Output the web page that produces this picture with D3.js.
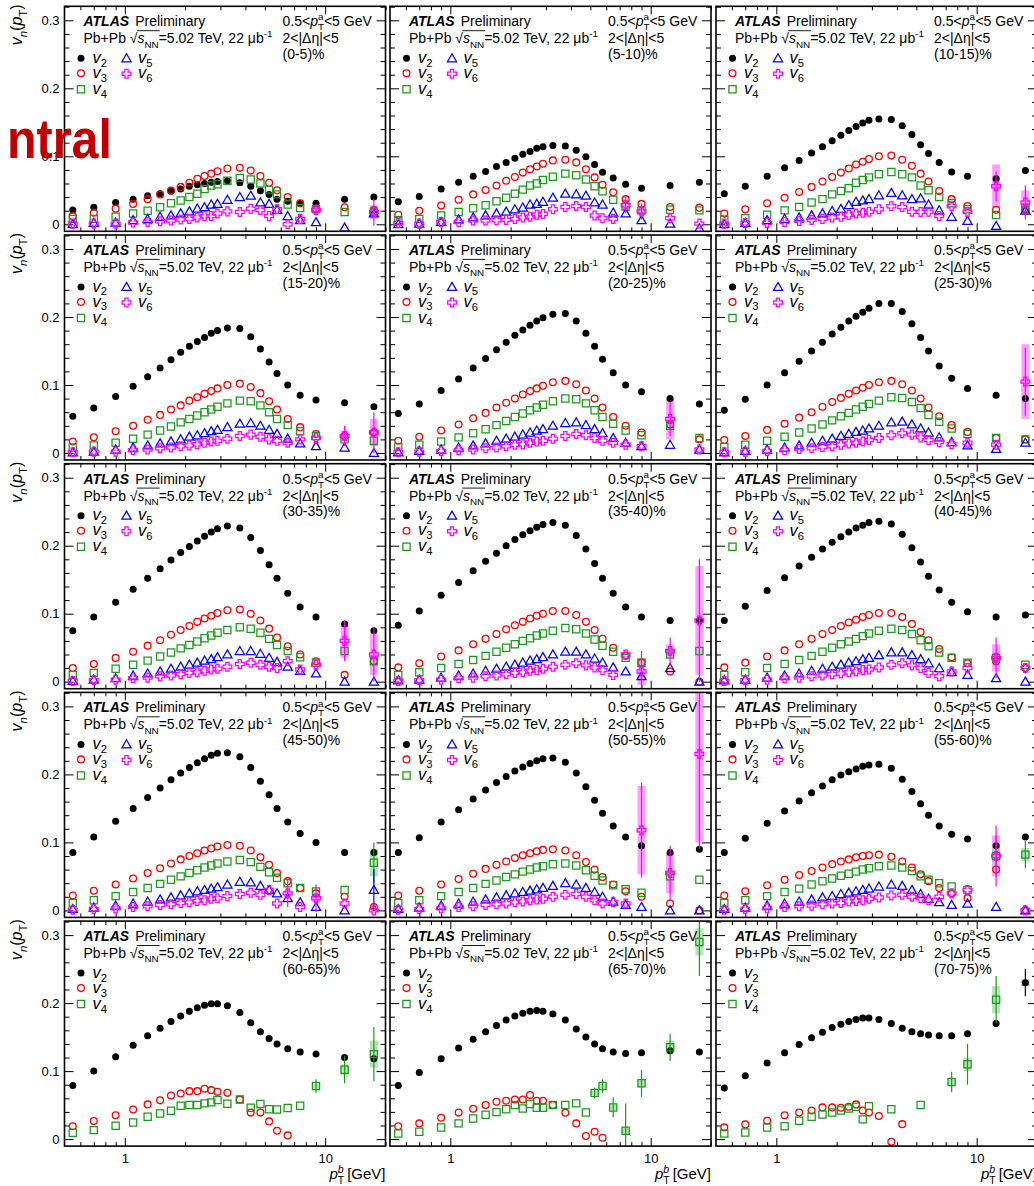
<!DOCTYPE html>
<html><head><meta charset="utf-8">
<script src="https://cdn.jsdelivr.net/npm/d3@7"></script>
<style>
body{margin:0;background:#fff}
svg{display:block}
text{font-family:"Liberation Sans",Arial,Helvetica,sans-serif;fill:#000;white-space:pre}
</style>
</head><body>
<svg id="chart" width="1034" height="1186"></svg>
<script>
// Associated-particle pT bin centres (GeV)
const pT = [0.55,0.7,0.9,1.1,1.3,1.5,1.7,1.9,2.1,2.3,2.5,2.7,2.9,3.25,3.75,4.25,4.75,5.25,5.75,6.5,7.5,9,12.5,17.5];

const centralities = ["(0-5)%","(5-10)%","(10-15)%","(15-20)%","(20-25)%","(25-30)%",
  "(30-35)%","(35-40)%","(40-45)%","(45-50)%","(50-55)%","(55-60)%",
  "(60-65)%","(65-70)%","(70-75)%"];

const v2 = [
  [0.021,0.025,0.032,0.037,0.042,0.045,0.049,0.052,0.056,0.058,0.060,0.062,0.063,0.064,0.061,0.056,0.0495,0.044,0.037,0.034,0.031,0.031,0.037,0.040],
  [0.033,0.041,0.052,0.062,0.0705,0.0775,0.085,0.091,0.097,0.103,0.107,0.112,0.114,0.116,0.115,0.109,0.0995,0.088,0.0765,0.068,0.059,0.053,0.057,0.062],
  [0.045,0.056,0.0705,0.083,0.094,0.105,0.114,0.123,0.131,0.138,0.144,0.149,0.153,0.155,0.154,0.145,0.132,0.117,0.104,0.091,0.077,0.0705,0.067,0.079],
  [0.054,0.066,0.083,0.098,0.112,0.125,0.137,0.148,0.157,0.164,0.170,0.176,0.180,0.184,0.183,0.171,0.153,0.134,0.117,0.100,0.085,0.078,0.074,0.068],
  [0.058,0.072,0.092,0.109,0.125,0.139,0.152,0.163,0.173,0.181,0.188,0.194,0.199,0.204,0.205,0.194,0.176,0.157,0.138,0.118,0.100,0.090,0.080,0.072],
  [0.063,0.079,0.100,0.118,0.135,0.150,0.163,0.175,0.185,0.194,0.201,0.207,0.213,0.220,0.220,0.208,0.190,0.170,0.150,0.128,0.110,0.095,0.085,0.080],
  [0.075,0.095,0.117,0.136,0.152,0.166,0.179,0.190,0.199,0.207,0.214,0.220,0.225,0.229,0.226,0.212,0.193,0.172,0.152,0.130,0.110,0.095,0.085,0.075],
  [0.083,0.104,0.127,0.146,0.163,0.177,0.189,0.200,0.209,0.216,0.222,0.227,0.231,0.234,0.230,0.215,0.195,0.174,0.152,0.130,0.110,0.095,0.090,0.090],
  [0.090,0.111,0.134,0.153,0.170,0.183,0.195,0.205,0.213,0.220,0.226,0.230,0.234,0.236,0.232,0.217,0.197,0.176,0.155,0.135,0.117,0.103,0.095,0.098],
  [0.085,0.108,0.131,0.150,0.166,0.180,0.192,0.202,0.210,0.217,0.223,0.228,0.231,0.232,0.226,0.210,0.190,0.170,0.150,0.130,0.113,0.100,0.085,0.085],
  [0.085,0.107,0.130,0.148,0.164,0.177,0.188,0.197,0.205,0.211,0.216,0.220,0.223,0.224,0.218,0.202,0.182,0.162,0.143,0.124,0.108,0.095,0.085,0.090],
  [0.085,0.106,0.128,0.146,0.161,0.173,0.183,0.192,0.199,0.204,0.208,0.212,0.214,0.215,0.209,0.193,0.175,0.157,0.140,0.124,0.112,0.105,0.095,0.108],
  [0.079,0.100,0.121,0.138,0.152,0.163,0.173,0.181,0.188,0.193,0.197,0.199,0.199,0.196,0.186,0.171,0.158,0.148,0.140,0.133,0.128,0.125,0.120,0.118],
  [0.079,0.098,0.118,0.134,0.147,0.158,0.167,0.175,0.181,0.185,0.188,0.189,0.188,0.184,0.175,0.162,0.150,0.140,0.133,0.128,0.126,0.127,0.130,0.128],
  [0.075,0.093,0.112,0.127,0.139,0.149,0.157,0.164,0.169,0.173,0.176,0.178,0.178,0.176,0.170,0.163,0.158,0.155,0.153,0.152,0.152,0.155,0.170,0.230]
];

const v3 = [
  [0.012,0.017,0.023,0.030,0.037,0.044,0.0495,0.055,0.061,0.067,0.071,0.0745,0.078,0.082,0.083,0.079,0.071,0.061,0.050,0.040,0.031,0.023,0.025,0.021],
  [0.014,0.020,0.0275,0.036,0.044,0.0505,0.057,0.064,0.0695,0.076,0.081,0.085,0.089,0.094,0.095,0.091,0.081,0.069,0.058,0.047,0.037,0.030,0.0255,0.0245],
  [0.0157,0.022,0.031,0.039,0.0475,0.055,0.063,0.0695,0.076,0.082,0.088,0.092,0.096,0.100,0.101,0.095,0.086,0.0745,0.063,0.049,0.037,0.027,0.0215,0.022],
  [0.017,0.023,0.032,0.040,0.049,0.056,0.064,0.070,0.077,0.082,0.087,0.091,0.095,0.100,0.102,0.097,0.088,0.076,0.064,0.050,0.038,0.028,0.025,0.030],
  [0.018,0.024,0.033,0.042,0.051,0.059,0.067,0.074,0.080,0.086,0.091,0.095,0.099,0.104,0.106,0.101,0.092,0.080,0.067,0.053,0.040,0.030,0.042,0.020],
  [0.019,0.025,0.034,0.043,0.052,0.060,0.068,0.075,0.081,0.087,0.092,0.096,0.100,0.104,0.106,0.101,0.092,0.080,0.067,0.054,0.041,0.031,0.022,0.020],
  [0.020,0.026,0.035,0.044,0.053,0.061,0.069,0.076,0.082,0.088,0.093,0.097,0.101,0.105,0.106,0.100,0.090,0.078,0.065,0.052,0.040,0.030,0.010,0.030],
  [0.021,0.027,0.037,0.046,0.055,0.063,0.070,0.077,0.083,0.088,0.093,0.097,0.100,0.104,0.104,0.098,0.088,0.076,0.063,0.050,0.038,0.028,0.015,0.000],
  [0.021,0.028,0.037,0.046,0.055,0.063,0.070,0.076,0.082,0.087,0.091,0.095,0.098,0.101,0.101,0.095,0.085,0.073,0.061,0.048,0.036,0.027,0.030,0.020],
  [0.022,0.029,0.038,0.047,0.055,0.062,0.069,0.075,0.080,0.084,0.088,0.091,0.094,0.096,0.095,0.088,0.078,0.067,0.055,0.043,0.033,0.025,0.020,0.005],
  [0.022,0.029,0.038,0.046,0.054,0.061,0.067,0.072,0.077,0.081,0.084,0.087,0.089,0.090,0.088,0.081,0.071,0.060,0.049,0.038,0.028,0.020,0.010,0.000],
  [0.022,0.028,0.037,0.045,0.052,0.058,0.063,0.068,0.072,0.075,0.078,0.080,0.081,0.082,0.079,0.072,0.063,0.053,0.043,0.033,0.025,0.018,0.060,0.000],
  [0.019,0.0265,0.035,0.0435,0.051,0.057,0.064,0.067,0.0705,0.0705,0.074,0.072,0.0695,0.068,0.058,0.039,0.039,0.026,0.0123,0.0054,null,null,null,null],
  [0.019,0.0231,0.0314,0.039,0.0446,0.050,0.055,0.0564,0.0583,0.0583,0.0647,0.0564,0.0564,0.050,0.0387,0.0231,0.0044,0.0108,0.002,null,null,null,null,null],
  [0.0172,0.0216,0.027,0.035,0.039,0.042,0.0466,0.0466,0.046,0.0476,0.051,0.042,0.039,0.034,-0.0039,0.022,null,null,null,null,null,null,null,null]
];

const v4 = [
  [0.008,0.008,0.011,0.016,0.020,0.025,0.031,0.035,0.040,0.045,0.052,0.057,0.059,0.064,0.068,0.066,0.060,0.051,0.044,0.029,0.024,0.022,0.018,0.018],
  [0.006,0.008,0.013,0.018,0.0235,0.028,0.034,0.039,0.045,0.051,0.057,0.060,0.065,0.070,0.0745,0.072,0.066,0.056,0.0485,0.036,0.026,0.0205,0.0215,0.0205],
  [0.007,0.009,0.014,0.0205,0.0255,0.032,0.037,0.044,0.049,0.053,0.061,0.065,0.069,0.0735,0.077,0.0735,0.069,0.057,0.050,0.040,0.031,0.022,0.0137,0.024],
  [0.008,0.011,0.015,0.021,0.027,0.033,0.039,0.045,0.050,0.055,0.060,0.064,0.068,0.073,0.077,0.076,0.070,0.060,0.050,0.041,0.032,0.025,0.020,0.018],
  [0.009,0.012,0.017,0.023,0.029,0.035,0.041,0.047,0.053,0.058,0.063,0.067,0.071,0.076,0.080,0.079,0.073,0.063,0.053,0.043,0.033,0.026,0.040,0.022],
  [0.009,0.012,0.018,0.024,0.030,0.036,0.042,0.048,0.054,0.059,0.064,0.068,0.072,0.077,0.082,0.081,0.075,0.066,0.056,0.046,0.036,0.028,0.022,0.020],
  [0.010,0.013,0.019,0.025,0.031,0.037,0.043,0.049,0.054,0.059,0.064,0.068,0.072,0.076,0.080,0.078,0.072,0.063,0.054,0.045,0.036,0.028,0.045,0.030],
  [0.010,0.014,0.020,0.026,0.032,0.038,0.044,0.050,0.055,0.060,0.064,0.068,0.071,0.075,0.079,0.077,0.071,0.062,0.053,0.044,0.035,0.028,0.040,0.045],
  [0.010,0.014,0.020,0.026,0.032,0.038,0.044,0.050,0.055,0.059,0.063,0.067,0.071,0.075,0.078,0.076,0.070,0.061,0.052,0.043,0.035,0.028,0.035,0.025],
  [0.011,0.015,0.021,0.027,0.033,0.039,0.045,0.050,0.055,0.059,0.063,0.066,0.069,0.072,0.074,0.071,0.064,0.056,0.048,0.040,0.033,0.028,0.030,0.070],
  [0.011,0.015,0.021,0.027,0.033,0.039,0.044,0.049,0.053,0.057,0.060,0.063,0.065,0.068,0.069,0.066,0.059,0.051,0.044,0.037,0.031,0.026,0.050,0.045],
  [0.011,0.015,0.021,0.027,0.032,0.038,0.043,0.047,0.051,0.054,0.057,0.060,0.062,0.065,0.066,0.063,0.058,0.050,0.045,0.040,0.035,0.030,0.080,0.082],
  [0.0093,0.0132,0.0196,0.0245,0.0328,0.0377,0.0417,0.049,0.050,0.050,0.0525,0.054,0.0574,0.052,0.0583,0.046,0.0515,0.044,0.0436,0.0456,0.049,0.078,0.102,0.125],
  [0.0083,0.0108,0.0172,0.0231,0.0304,0.0358,0.0397,0.044,0.050,0.045,0.0515,0.046,0.046,0.050,0.050,0.0525,0.039,0.068,0.078,0.0466,0.0123,0.082,0.135,0.290],
  [0.0083,0.0098,0.0172,0.019,0.027,0.033,0.0363,0.039,0.042,0.045,0.0476,0.029,0.0485,null,0.044,null,null,0.050,null,null,0.084,0.110,0.205,null]
];

// v5 and v6 are shown for the twelve most central intervals only
const v5 = [
  [0.000,0.002,0.0025,0.006,0.008,0.011,0.013,0.016,0.019,0.023,0.025,0.029,0.030,0.036,0.040,0.042,0.032,0.030,0.021,0.012,0.006,0.003,-0.005,0.016],
  [0.000,0.001,0.0035,0.007,0.010,0.013,0.016,0.0185,0.022,0.0245,0.029,0.030,0.033,0.039,0.045,0.044,0.042,0.032,0.029,0.017,0.016,0.006,0.001,-0.006],
  [0.000,0.002,0.006,0.008,0.010,0.013,0.016,0.0195,0.0225,0.028,0.033,0.035,0.037,0.0425,0.046,0.0425,0.037,0.038,0.029,0.0205,0.011,0.005,-0.0025,0.020],
  [0.001,0.002,0.005,0.008,0.011,0.014,0.017,0.020,0.024,0.026,0.029,0.032,0.034,0.038,0.043,0.044,0.040,0.034,0.028,0.021,0.014,0.010,0.008,0.000],
  [0.001,0.003,0.005,0.008,0.011,0.014,0.018,0.021,0.024,0.027,0.030,0.033,0.035,0.040,0.044,0.045,0.041,0.035,0.029,0.022,0.015,0.010,0.012,0.005],
  [0.001,0.003,0.005,0.008,0.011,0.015,0.018,0.021,0.025,0.028,0.031,0.033,0.036,0.040,0.045,0.046,0.042,0.036,0.030,0.023,0.016,0.011,0.006,0.015],
  [0.001,0.003,0.005,0.009,0.012,0.015,0.019,0.022,0.025,0.028,0.031,0.033,0.036,0.040,0.045,0.045,0.041,0.035,0.029,0.022,0.016,0.012,0.000,0.000],
  [0.002,0.003,0.006,0.009,0.012,0.016,0.019,0.022,0.025,0.028,0.031,0.033,0.036,0.040,0.044,0.044,0.040,0.034,0.028,0.021,0.015,0.008,0.020,0.000],
  [0.002,0.003,0.006,0.009,0.012,0.016,0.019,0.022,0.025,0.028,0.030,0.033,0.035,0.039,0.043,0.043,0.039,0.033,0.027,0.020,0.014,0.010,0.005,0.000],
  [0.002,0.004,0.007,0.010,0.013,0.016,0.019,0.022,0.025,0.028,0.030,0.032,0.034,0.038,0.042,0.041,0.036,0.030,0.025,0.018,0.012,0.005,0.000,0.030],
  [0.002,0.004,0.007,0.010,0.013,0.016,0.019,0.022,0.025,0.027,0.029,0.031,0.033,0.036,0.040,0.038,0.033,0.027,0.020,0.013,0.008,0.005,0.000,0.000],
  [0.002,0.004,0.007,0.010,0.013,0.016,0.019,0.021,0.024,0.026,0.028,0.030,0.032,0.035,0.038,0.036,0.030,0.024,0.017,0.012,0.008,0.010,0.005,0.000]
];

const v6 = [
  [0.001,0.001,0.001,0.0025,0.0035,0.0045,0.0055,0.007,0.008,0.010,0.012,0.012,0.016,0.019,0.018,0.023,0.021,0.012,0.022,0.000,0.008,0.021,null,0.018],
  [0.002,0.001,0.0035,0.0035,0.0055,0.0055,0.006,0.0065,0.008,0.010,0.011,0.014,0.015,0.022,0.0255,0.027,0.0255,0.013,0.009,0.008,0.028,0.019,0.009,0.001],
  [0.001,0.002,0.002,0.0035,0.005,0.0065,0.008,0.010,0.011,0.014,0.016,0.017,0.0185,0.022,0.0265,0.0255,0.0185,0.018,0.0185,0.012,0.0265,0.018,0.056,0.032],
  [0.001,0.002,0.002,0.004,0.005,0.007,0.008,0.010,0.011,0.013,0.015,0.017,0.018,0.021,0.025,0.027,0.024,0.020,0.018,0.015,0.020,0.022,0.025,0.030],
  [0.001,0.002,0.003,0.004,0.005,0.007,0.008,0.010,0.012,0.013,0.015,0.017,0.018,0.021,0.025,0.028,0.026,0.022,0.018,0.015,0.012,0.010,0.050,0.005],
  [0.001,0.002,0.003,0.004,0.006,0.007,0.009,0.010,0.012,0.014,0.015,0.017,0.019,0.022,0.026,0.029,0.027,0.023,0.019,0.016,0.013,0.015,0.012,0.105],
  [0.001,0.002,0.003,0.005,0.006,0.008,0.009,0.011,0.013,0.014,0.016,0.018,0.019,0.022,0.026,0.028,0.025,0.022,0.020,0.030,0.018,0.025,0.060,0.040],
  [0.001,0.002,0.003,0.005,0.006,0.008,0.009,0.011,0.013,0.014,0.016,0.017,0.019,0.022,0.025,0.027,0.024,0.021,0.017,0.010,0.040,0.015,0.045,0.090],
  [0.001,0.002,0.003,0.005,0.006,0.008,0.009,0.011,0.012,0.014,0.015,0.017,0.018,0.021,0.025,0.027,0.024,0.020,0.013,0.008,0.015,0.020,0.035,0.020],
  [0.001,0.002,0.003,0.005,0.006,0.008,0.009,0.011,0.012,0.014,0.015,0.017,0.018,0.021,0.024,0.026,0.023,0.030,0.010,0.025,0.005,0.018,0.010,0.000],
  [0.001,0.002,0.003,0.005,0.006,0.008,0.009,0.010,0.012,0.013,0.015,0.016,0.017,0.020,0.023,0.024,0.020,0.015,0.010,0.012,0.010,0.118,0.055,0.230],
  [0.001,0.002,0.003,0.005,0.006,0.007,0.009,0.010,0.011,0.013,0.014,0.015,0.017,0.019,0.022,0.023,0.020,0.018,0.015,0.020,0.025,0.030,0.080,0.000]
];

// Uncertainties on individual points: [panel, harmonic, pT index, stat, syst]
const uncertainties = [
  [0,6,21,0.008,0.004],[0,6,23,0.020,0.010],[0,4,23,0.004,0.004],
  [1,6,20,0.012,0.008],[1,6,21,0.012,0.006],
  [2,6,22,0.022,0.032],[2,6,23,0.025,0.018],
  [3,6,22,0.015,0.008],[3,6,23,0.030,0.020],
  [4,6,22,0.025,0.030],
  [5,6,23,0.050,0.055],
  [6,6,22,0.030,0.025],[6,6,23,0.040,0.030],
  [7,6,21,0.030,0.020],[7,6,22,0.020,0.010],[7,6,23,0.090,0.080],
  [8,6,22,0.030,0.020],
  [9,6,19,0.020,0.005],[9,6,21,0.020,0.005],[9,4,23,0.030,0.020],[9,5,23,0.030,0.000],
  [10,6,21,0.070,0.065],[10,6,22,0.040,0.030],[10,6,23,0.140,0.130],
  [11,6,22,0.045,0.030],[11,4,22,0.030,0.010],[11,4,23,0.020,0.010],
  [12,4,21,0.010,0.004],[12,4,22,0.020,0.008],[12,4,23,0.040,0.020],
  [13,4,17,0.008,0.003],[13,4,18,0.010,0.004],[13,4,19,0.015,0.004],[13,4,20,0.040,0.005],
  [13,4,21,0.020,0.006],[13,4,22,0.020,0.010],[13,4,23,0.050,0.020],
  [14,4,20,0.015,0.005],[14,4,21,0.030,0.010],[14,4,22,0.035,0.020],[14,2,23,0.020,0.005]
];

const yTicks = [0, 0.1, 0.2, 0.3];
const xTickLabels = [1, 10];

const series = {2: v2, 3: v3, 4: v4, 5: v5, 6: v6};
const colors = {2: "#000000", 3: "#ff0000", 4: "#1a9a1a", 5: "#0000ff", 6: "#ff00ff"};
const systFill = {2: "#999999", 3: "#ff9999", 4: "#99dd99", 5: "#9999ff", 6: "#ff80ff"};

const svg = d3.select("#chart");
const colLeft = [64.5, 390, 716];
const W = 321, H = 225;
const rowTop = r => 6.3 + r * 228.7;

// Lays out a run of text pieces (italic, sub/superscript, stacked) left to right
function rich(parent, x, y, segs, fs, anchor) {
  const g = parent.append("g");
  let cx = 0, stackW = 0, overStart = null, overEnd = null;
  segs.forEach(s => {
    const t = g.append("text").attr("x", cx).attr("y", y + (s.dy || 0) * fs)
      .attr("xml:space", "preserve")
      .attr("font-size", fs * (s.scale || 1)).text(s.t);
    if (s.it) t.attr("font-style", "italic");
    if (s.b) t.attr("font-weight", "bold");
    const w = t.node().getComputedTextLength();
    if (s.overStart) overStart = cx + (s.overOffset || 0);
    if (s.stack) { stackW = Math.max(stackW, w); }
    else { cx += Math.max(w, stackW); stackW = 0; }
    if (s.overEnd) overEnd = cx;
    cx += s.gap || 0;
  });
  if (overStart !== null && overEnd !== null) {
    g.append("line").attr("x1", overStart).attr("x2", overEnd + 1)
      .attr("y1", y - fs * 0.9).attr("y2", y - fs * 0.9)
      .attr("stroke", "#000").attr("stroke-width", 0.9);
  }
  const off = anchor === "end" ? x - cx : anchor === "middle" ? x - cx / 2 : x;
  g.attr("transform", `translate(${off},0)`);
  return g;
}

function markerPath(n) {
  if (n === 5) {
    const s = 4.6;
    return `M0,${-s}L${s},${s * 0.75}L${-s},${s * 0.75}Z`;
  }
  if (n === 6) {
    const a = 4.4, w = 1.6;
    return `M${-w},${-a}H${w}V${-w}H${a}V${w}H${w}V${a}H${-w}V${w}H${-a}V${-w}H${-w}Z`;
  }
  if (n === 4) return "M-3.6,-3.6H3.6V3.6H-3.6Z";
  return null;
}

function drawMarker(g, n, cx, cy) {
  if (n === 2) {
    g.append("circle").attr("cx", cx).attr("cy", cy).attr("r", 3.5).attr("fill", colors[2]);
  } else if (n === 3) {
    g.append("circle").attr("cx", cx).attr("cy", cy).attr("r", 3.4)
      .attr("fill", "none").attr("stroke", colors[3]).attr("stroke-width", 1.3);
  } else {
    g.append("path").attr("d", markerPath(n)).attr("transform", `translate(${cx},${cy})`)
      .attr("fill", "none").attr("stroke", colors[n]).attr("stroke-width", 1.25)
      .attr("stroke-linejoin", "miter");
  }
}

const defs = svg.append("defs");

centralities.forEach((cent, p) => {
  const col = p % 3, row = Math.floor(p / 3);
  const left = colLeft[col], top = rowTop(row);
  const x = d3.scaleLog().domain([0.5, 20]).range([left, left + W]);
  const y = d3.scaleLinear().domain([-0.0103, 0.3206]).range([top + H, top]);
  const g = svg.append("g");
  const harmonics = p < 12 ? [2, 3, 4, 5, 6] : [2, 3, 4];

  defs.append("clipPath").attr("id", "clip" + p).append("rect")
    .attr("x", left).attr("y", top).attr("width", W).attr("height", H);

  // axes: ticks point inwards on all four sides
  const yMinor = d3.range(0, 0.321, 0.02).filter(v => Math.abs(v * 10 - Math.round(v * 10)) > 1e-6);
  const xMinor = [0.6, 0.7, 0.8, 0.9, 2, 3, 4, 5, 6, 7, 8, 9, 20];
  const axL = g.append("g").attr("transform", `translate(${left},0)`)
    .call(d3.axisLeft(y).tickValues(yTicks).tickSize(-9).tickFormat(col === 0 ? d3.format("") : () => ""));
  g.append("g").attr("transform", `translate(${left},0)`)
    .call(d3.axisLeft(y).tickValues(yMinor).tickSize(-5).tickFormat(() => ""));
  g.append("g").attr("transform", `translate(${left + W},0)`)
    .call(d3.axisRight(y).tickValues(yTicks).tickSize(-9).tickFormat(() => ""));
  g.append("g").attr("transform", `translate(${left + W},0)`)
    .call(d3.axisRight(y).tickValues(yMinor).tickSize(-5).tickFormat(() => ""));
  const axB = g.append("g").attr("transform", `translate(0,${top + H})`)
    .call(d3.axisBottom(x).tickValues(xTickLabels).tickSize(-8).tickFormat(row === 4 ? d3.format("") : () => ""));
  g.append("g").attr("transform", `translate(0,${top + H})`)
    .call(d3.axisBottom(x).tickValues(xMinor).tickSize(-4).tickFormat(() => ""));
  g.append("g").attr("transform", `translate(0,${top})`)
    .call(d3.axisTop(x).tickValues(xTickLabels).tickSize(-8).tickFormat(() => ""));
  g.append("g").attr("transform", `translate(0,${top})`)
    .call(d3.axisTop(x).tickValues(xMinor).tickSize(-4).tickFormat(() => ""));
  g.selectAll(".domain").remove();
  g.selectAll(".tick line").attr("stroke", "#000").attr("stroke-width", 1);
  axL.selectAll(".tick text").attr("x", -5).attr("font-size", 13)
    .attr("font-family", "Liberation Sans, Arial, sans-serif").attr("fill", "#222");
  axB.selectAll(".tick text").attr("y", 8).attr("font-size", 13)
    .attr("font-family", "Liberation Sans, Arial, sans-serif").attr("fill", "#222");

  // data
  const dg = g.append("g").attr("clip-path", `url(#clip${p})`);
  const unc = uncertainties.filter(u => u[0] === p);
  unc.forEach(([, n, i, , sy]) => {
    const v = series[n][p][i];
    if (v == null || sy <= 0) return;
    dg.append("rect").attr("x", x(pT[i]) - 4).attr("width", 8)
      .attr("y", y(v + sy)).attr("height", y(v - sy) - y(v + sy))
      .attr("fill", systFill[n]).attr("opacity", 0.75);
  });
  harmonics.forEach(n => {
    unc.filter(u => u[1] === n).forEach(([, , i, st]) => {
      const v = series[n][p][i];
      if (v == null) return;
      dg.append("line").attr("x1", x(pT[i])).attr("x2", x(pT[i]))
        .attr("y1", y(v - st)).attr("y2", y(v + st))
        .attr("stroke", colors[n]).attr("stroke-width", 1.2);
    });
    series[n][p].forEach((v, i) => {
      if (v == null) return;
      drawMarker(dg, n, x(pT[i]), y(v));
    });
  });

  // frame
  g.append("rect").attr("x", left).attr("y", top).attr("width", W).attr("height", H)
    .attr("fill", "none").attr("stroke", "#000").attr("stroke-width", 1.6);

  // labels
  const tx = left + 19;
  rich(g, tx, top + 20, [{t: "ATLAS", b: true, it: true, gap: 6}, {t: "Preliminary"}], 14, "start");
  rich(g, tx, top + 37, [
    {t: "Pb+Pb "}, {t: "\u221A", overStart: true, overOffset: 7},
    {t: "s", it: true}, {t: "NN", scale: 0.7, dy: 0.3, overEnd: true},
    {t: "=5.02 TeV, 22 \u03BCb"}, {t: "-1", scale: 0.7, dy: -0.42}
  ], 14, "start");
  const rx = left + 218;
  rich(g, rx, top + 20, [
    {t: "0.5<"}, {t: "p", it: true}, {t: "a", scale: 0.7, dy: -0.42, stack: true},
    {t: "T", scale: 0.7, dy: 0.28}, {t: "<5 GeV"}
  ], 14, "start");
  rich(g, rx, top + 37, [{t: "2<|\u0394\u03B7|<5"}], 14, "start");
  rich(g, rx, top + 52.5, [{t: cent}], 14, "start");

  // legend
  const legPos = {2: [16.5, 52], 3: [16.5, 67], 4: [16.5, 83], 5: [62, 52], 6: [62, 67.5]};
  harmonics.forEach(n => {
    const [dx, dy] = legPos[n];
    const mx = left + dx, my = top + dy;
    drawMarker(g, n, mx, my);
    rich(g, mx + 11.5, my + 4.5, [{t: "v", it: true}, {t: String(n), scale: 0.68, dy: 0.24}], 16.5, "start");
  });

  // y title on the first column
  if (col === 0) {
    const yt = svg.append("g").attr("transform", `translate(22,${top - 2}) rotate(-90)`);
    rich(yt, 0, 0, [{t: "v", it: true}, {t: "n", it: true, scale: 0.72, dy: 0.3},
      {t: "("}, {t: "p", it: true}, {t: "T", scale: 0.72, dy: 0.3}, {t: ")"}], 16, "end");
  }
  // x title on the bottom row
  if (row === 4) {
    rich(g, left + W, top + H + 33, [
      {t: "p", it: true}, {t: "b", it: true, scale: 0.7, dy: -0.42, stack: true},
      {t: "T", scale: 0.7, dy: 0.32, gap: 3}, {t: "[GeV]"}
    ], 15, "end");
  }
});

// slide heading partly cut off at the left edge
const heading = svg.append("g").style("fill", "#c00000")
  .attr("font-size", 56).attr("font-weight", "bold");
heading.append("text").attr("x", 2).attr("y", 158).attr("text-anchor", "end")
  .style("fill", "#c00000").text("Ce");
heading.append("text").attr("x", 7).attr("y", 158)
  .attr("textLength", 105).attr("lengthAdjust", "spacingAndGlyphs")
  .style("fill", "#c00000").text("ntral");
</script>
</body></html>
